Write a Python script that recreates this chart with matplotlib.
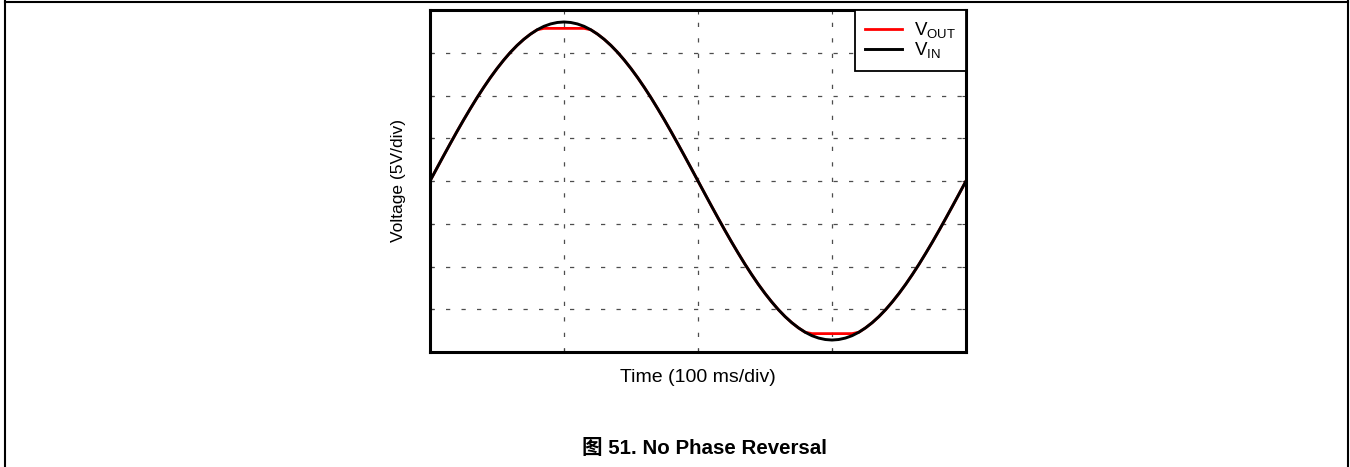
import matplotlib.pyplot as plt
from matplotlib.lines import Line2D

plt.rcParams['font.family'] = ['Liberation Sans', 'Noto Sans CJK SC']
plt.rcParams['mathtext.fontset'] = 'custom'
plt.rcParams['mathtext.rm'] = 'Liberation Sans'
plt.rcParams['mathtext.it'] = 'Liberation Sans'

# scope capture, one sample every 5 ms (time in ms, voltage in V)
t_ms = list(range(0, 401, 5))
v_in = [0.00, 1.46, 2.91, 4.34, 5.75, 7.12, 8.44, 9.72, 10.93, 12.08, 13.15,
        14.14, 15.05, 15.86, 16.57, 17.18, 17.69, 18.09, 18.37, 18.54, 18.60,
        18.54, 18.37, 18.09, 17.69, 17.18, 16.57, 15.86, 15.05, 14.14, 13.15,
        12.08, 10.93, 9.72, 8.44, 7.12, 5.75, 4.34, 2.91, 1.46, 0.00,
        -1.46, -2.91, -4.34, -5.75, -7.12, -8.44, -9.72, -10.93, -12.08, -13.15,
        -14.14, -15.05, -15.86, -16.57, -17.18, -17.69, -18.09, -18.37, -18.54, -18.60,
        -18.54, -18.37, -18.09, -17.69, -17.18, -16.57, -15.86, -15.05, -14.14, -13.15,
        -12.08, -10.93, -9.72, -8.44, -7.12, -5.75, -4.34, -2.91, -1.46, 0.00]
v_out = [0.00, 1.46, 2.91, 4.34, 5.75, 7.12, 8.44, 9.72, 10.93, 12.08, 13.15,
         14.14, 15.05, 15.86, 16.57, 17.18, 17.69, 17.85, 17.85, 17.85, 17.85,
         17.85, 17.85, 17.85, 17.69, 17.18, 16.57, 15.86, 15.05, 14.14, 13.15,
         12.08, 10.93, 9.72, 8.44, 7.12, 5.75, 4.34, 2.91, 1.46, 0.00,
         -1.46, -2.91, -4.34, -5.75, -7.12, -8.44, -9.72, -10.93, -12.08, -13.15,
         -14.14, -15.05, -15.86, -16.57, -17.18, -17.69, -17.85, -17.85, -17.85, -17.85,
         -17.85, -17.85, -17.85, -17.69, -17.18, -16.57, -15.86, -15.05, -14.14, -13.15,
         -12.08, -10.93, -9.72, -8.44, -7.12, -5.75, -4.34, -2.91, -1.46, 0.00]

fig = plt.figure(figsize=(13.5, 4.67), dpi=100)
ax = fig.add_axes([430 / 1350, 1 - 352 / 467, 536 / 1350, 342 / 467])

ax.plot(t_ms, v_out, color='red', lw=2.0, label=r'V$_{\mathrm{OUT}}$')
ax.plot(t_ms, v_in, color='black', lw=2.1, label=r'V$_{\mathrm{IN}}$')

ax.set_xlim(0, 400)
ax.set_ylim(-20, 20)
ax.set_xticks([0, 100, 200, 300, 400])
ax.set_yticks(range(-20, 21, 5))
ax.set_xticklabels([])
ax.set_yticklabels([])
ax.tick_params(direction='in', length=3, width=0.8, color='#444444',
               top=True, right=True)
ax.grid(True, color='#4d4d4d', lw=0.9, linestyle=(0, (3.4, 9.0)))

for s in ax.spines.values():
    s.set_linewidth(2.2)
    s.set_zorder(5)

ax.set_xlabel('Time (100 ms/div)', fontsize=14, labelpad=9)
ax.set_ylabel('Voltage (5V/div)', fontsize=12.5, labelpad=14)

leg = ax.legend(loc='upper right', fontsize=13.5, frameon=True, fancybox=False,
                framealpha=1, borderaxespad=0, handlelength=2.0,
                handletextpad=0.6, labelspacing=0.0, borderpad=0.55)
leg.get_frame().set_edgecolor('black')
leg.get_frame().set_linewidth(1.3)
leg.set_zorder(6)

fig.text(705 / 1350, 1 - 448 / 467, '图 51. No Phase Reversal', ha='center',
         va='center', fontsize=14.8, fontweight='bold')

# page frame around the figure
frame = dict(color='black', lw=1.5, transform=fig.transFigure)
fig.add_artist(Line2D([5 / 1350, 5 / 1350], [0, 1], **frame))
fig.add_artist(Line2D([1347.5 / 1350, 1347.5 / 1350], [0, 1], **frame))
fig.add_artist(Line2D([5 / 1350, 1347.5 / 1350], [1 - 1.5 / 467, 1 - 1.5 / 467], **frame))

fig.savefig('out.png', dpi=100)
